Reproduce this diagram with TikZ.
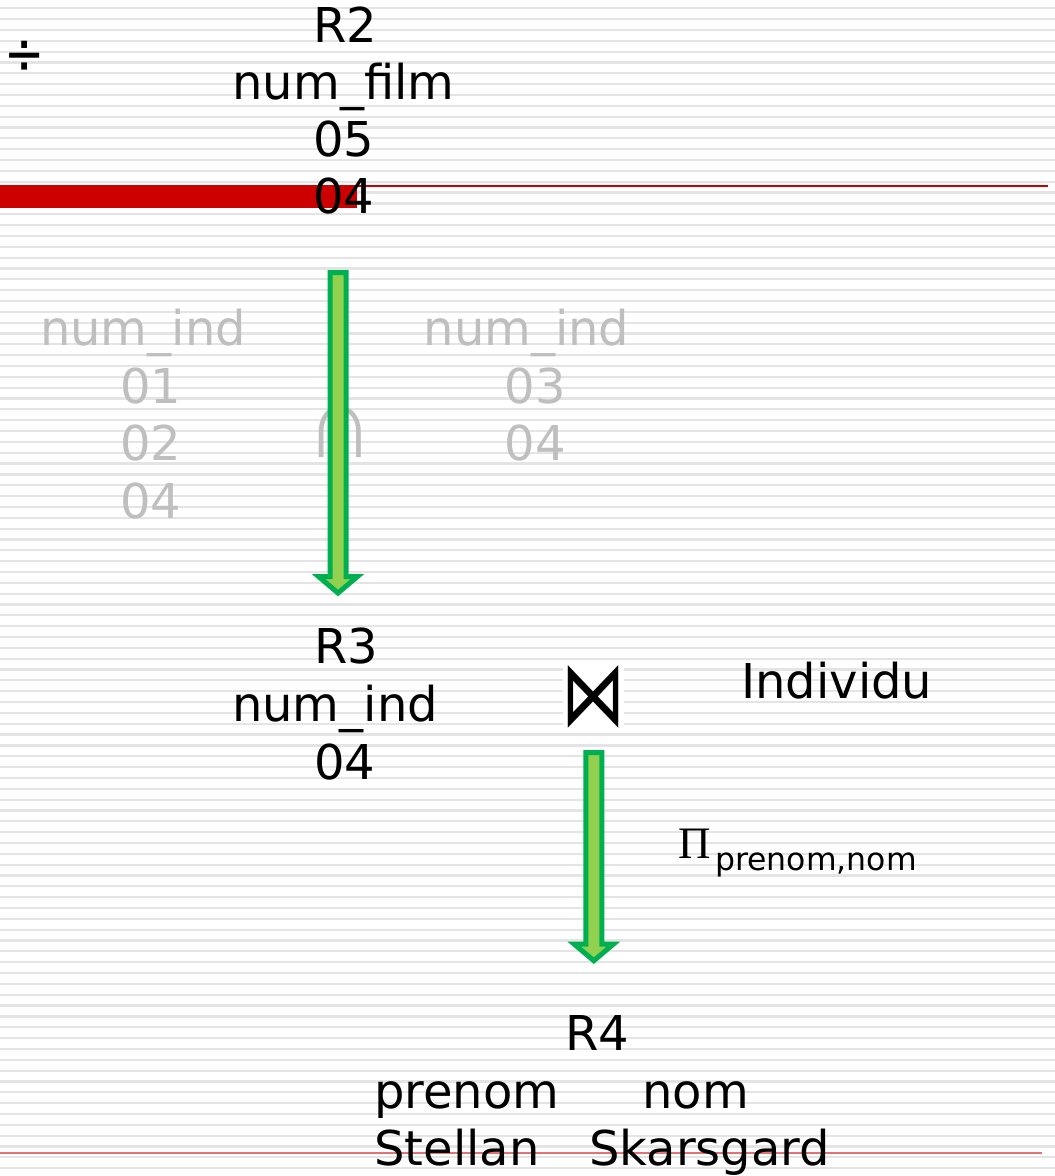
\documentclass[tikz,border=0pt]{standalone}
\usepackage{fontspec}
\setmainfont{DejaVu Sans}
\newfontfamily\grserif{Liberation Serif}
\newfontfamily\symsans{Liberation Sans}
\usetikzlibrary{calc}
\definecolor{stripe}{RGB}{228,228,228}
\definecolor{redbar}{RGB}{204,0,0}
\definecolor{txtgray}{RGB}{191,191,191}
\definecolor{arrowline}{RGB}{0,176,80}
\definecolor{arrowfill}{RGB}{146,208,80}
\newcommand\blockarr[2]{%
  \draw[blockarrow] ($(#1)+(-8,0)$) -- ($(#1)+(8,0)$) -- ($(#2)+(8,-16.5)$) -- ($(#2)+(19.5,-16.5)$)
    -- (#2) -- ($(#2)+(-19.5,-16.5)$) -- ($(#2)+(-8,-16.5)$) -- cycle;}
\begin{document}
\begin{tikzpicture}[x=1pt,y=-1pt,
  txt/.style={inner sep=0pt, anchor=base, font=\fontsize{48}{56}\selectfont},
  ltxt/.style={txt, anchor=base west},
  gtxt/.style={txt, text=txtgray},
  sym/.style={inner sep=0pt, anchor=center},
  blockarrow/.style={draw=arrowline, fill=arrowfill, line width=5pt, line join=miter}
]
\useasboundingbox (0,0) rectangle (1055,1176);
\fill[white] (0,0) rectangle (1055,1176);
\foreach \i in {-1,...,108} {
  \draw[stripe, line width=2.2pt] (0,{8.3+10.84*\i}) -- (1055,{8.3+10.84*\i});
}
% red marks
\fill[redbar] (0,185) rectangle (357,208.3);
\draw[redbar, line width=2pt] (0,186) -- (1048,186);
\draw[redbar, opacity=0.55, line width=2pt] (0,1152.8) -- (1042,1152.8);

% division symbol
\node[sym, font=\fontsize{48}{56}\selectfont] (div) at (25,58) {\scalebox{1}[1.25]{÷}};

% R2
\node[txt] (r2t) at (345,42.7) {R2};
\node[txt] (r2c) at (343.5,99.7) {num\_film};
\node[txt] (r2a) at (344,156.7) {05};
\node[txt] (r2b) at (344,213.7) {04};

% left relation (gray)
\node[gtxt] (lc) at (143,345) {num\_ind};
\node[gtxt] (la) at (151,403) {01};
\node[gtxt] (lb) at (151,460.5) {02};
\node[gtxt] (ld) at (151,518) {04};
% right relation (gray)
\node[gtxt] (rc) at (526.5,345) {num\_ind};
\node[gtxt] (ra) at (535.5,403) {03};
\node[gtxt] (rb) at (535.5,460.5) {04};
% intersection
\node[sym, text=txtgray, font=\symsans\fontsize{94}{94}\selectfont] (inter) at (340,432) {\scalebox{1}[1.08]{∩}};

% arrow 1
\coordinate (a1top) at (338,272.5);
\coordinate (a1tip) at (338,593);
\blockarr{a1top}{a1tip}

% R3
\node[txt] (r3t) at (346,663) {R3};
\node[txt] (r3c) at (335,721.5) {num\_ind};
\node[txt] (r3a) at (345,779) {04};

% join
\node[fill=white, inner sep=0pt, minimum width=61pt, minimum height=63pt] (joinbox) at (593,694.4) {};
\node[sym, font=\fontsize{80}{80}\selectfont] (join) at (593,696.5) {\scalebox{0.8}[1.14]{⋈}};
\node[ltxt] (indiv) at (741,698.3) {Individu};

% arrow 2
\coordinate (a2top) at (593.8,752.5);
\coordinate (a2tip) at (593.8,960.7);
\blockarr{a2top}{a2tip}

% projection
\node[inner sep=0pt, anchor=base, font=\grserif\fontsize{45}{50}\selectfont] (pi) at (695,858.3) {Π};
\node[inner sep=0pt, anchor=base west, font=\fontsize{31.5}{36}\selectfont] (pisub) at (715,870) {prenom,nom};

% R4
\node[txt] (r4t) at (597.5,1050.7) {R4};
\node[ltxt] (r4c1) at (374,1108) {prenom};
\node[txt] (r4c2) at (695.5,1108) {nom};
\node[ltxt] (r4a1) at (374,1165.5) {Stellan};
\node[ltxt] (r4a2) at (589,1165.5) {Skarsgard};
\end{tikzpicture}
\end{document}
